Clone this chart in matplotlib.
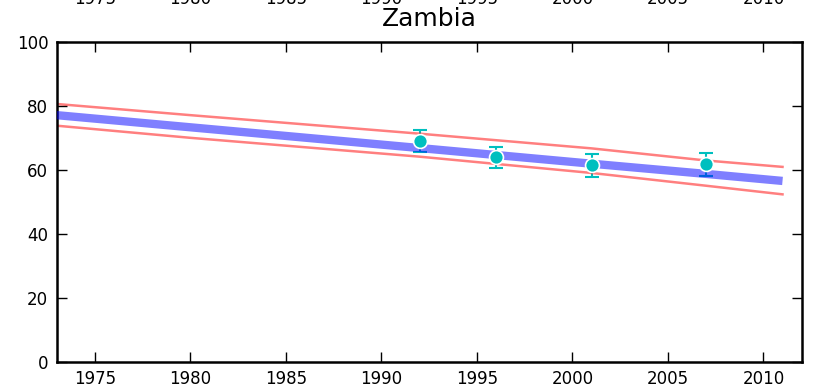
import matplotlib
matplotlib.use("Agg")
import matplotlib.pyplot as plt

# Data
model_years = [1973, 1980, 1992, 2001, 2007, 2011]
model_mean = [77.2, 73.4, 66.9, 62.0, 58.8, 56.6]
model_upper = [80.7, 77.2, 71.4, 66.8, 63.0, 61.0]
model_lower = [73.9, 70.1, 64.2, 59.1, 55.1, 52.4]

obs_years = [1992, 1996, 2001, 2007]
obs_vals = [69.1, 64.1, 61.5, 61.8]
obs_hi = [72.5, 67.3, 65.0, 65.3]
obs_lo = [65.7, 60.6, 57.9, 58.1]

top_ticks = [1975, 1980, 1985, 1990, 1995, 2000, 2005, 2010]

fig = plt.figure(figsize=(8.13, 3.92), dpi=100)
ax = fig.add_axes([0.0697, 0.0773, 0.9163, 0.8147])

cyan = (0, 0.75, 0.75)
yerr = [[v - l for v, l in zip(obs_vals, obs_lo)], [h - v for v, h in zip(obs_vals, obs_hi)]]
ax.errorbar(obs_years, obs_vals, yerr=yerr, fmt='none', ecolor=cyan, elinewidth=1.5,
            capsize=5, capthick=1.5, zorder=1)
ax.plot(model_years, model_upper, color='red', alpha=0.5, lw=1.8, zorder=2)
ax.plot(model_years, model_lower, color='red', alpha=0.5, lw=1.8, zorder=2)
ax.plot(model_years, model_mean, color='blue', alpha=0.5, lw=6, solid_capstyle='butt', zorder=3)
ax.plot(obs_years, obs_vals, 'o', color=cyan, mec='white', mew=1.2, ms=10, zorder=4)

ax.set_xlim(1973, 2012)
ax.set_ylim(0, 100)
ax.set_xticks(top_ticks)
ax.set_yticks([0, 20, 40, 60, 80, 100])
ax.tick_params(direction='in', length=7, width=1, top=True, right=True, labelsize=12, pad=6)
for s in ax.spines.values():
    s.set_linewidth(1.8)
ax.set_title('Zambia', fontsize=18, pad=12)

# clipped tick labels of the panel above
for yr in top_ticks:
    xf = 0.0697 + 0.9163 * (yr - 1973) / (2012 - 1973)
    fig.text(xf, 1 - 4 / 392, str(yr), ha='center', va='baseline', fontsize=12)

fig.savefig('out.png', dpi=100)
